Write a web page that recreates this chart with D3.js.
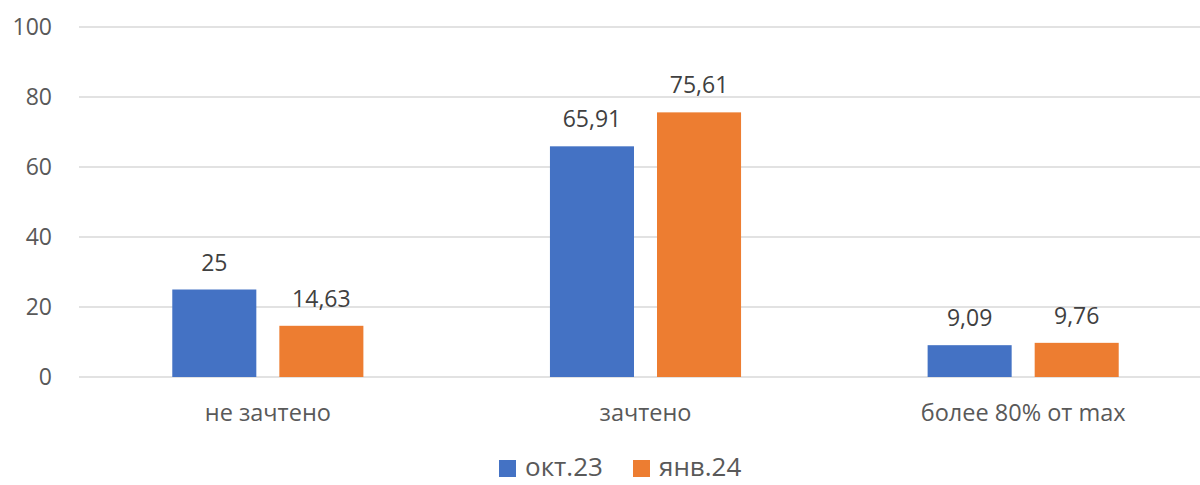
<!DOCTYPE html>
<html>
<head>
<meta charset="utf-8">
<script src="https://cdn.jsdelivr.net/npm/d3@7"></script>
<style>
  body { margin: 0; background: #fff; }
  svg { display: block; font-family: "Open Sans", sans-serif; }
</style>
</head>
<body>
<svg id="chart"></svg>
<script>
// data
var categories = ["не зачтено", "зачтено", "более 80% от max"];
var seriesNames = ["окт.23", "янв.24"];
var octValues = [25, 65.91, 9.09];
var janValues = [14.63, 75.61, 9.76];
var yTicks = [0, 20, 40, 60, 80, 100];

var colors = ["#4472C4", "#ED7D31"];
var width = 1200, height = 485;

var svg = d3.select("#chart").attr("width", width).attr("height", height);

var x0 = d3.scaleBand()
    .domain(categories)
    .range([79, 1212])
    .paddingInner(0.494)
    .paddingOuter(0.247);

var x1 = d3.scaleBand()
    .domain(seriesNames)
    .range([0, x0.bandwidth()])
    .paddingInner(0.215);

var y = d3.scaleLinear().domain([0, 100]).range([377, 27]);

// gridlines
svg.append("g")
    .selectAll("line")
    .data(yTicks)
    .join("line")
    .attr("x1", 79)
    .attr("x2", width)
    .attr("y1", function(d) { return y(d); })
    .attr("y2", function(d) { return y(d); })
    .attr("stroke", "#D9D9D9")
    .attr("stroke-width", 1.5);

// y axis labels
var yAxis = d3.axisLeft(y).tickValues(yTicks).tickSize(0).tickPadding(0);
var yg = svg.append("g").attr("transform", "translate(52,0)").call(yAxis);
yg.select(".domain").remove();
yg.selectAll("text")
    .attr("fill", "#595959")
    .style("font-size", "23px")
    .style("font-family", "Open Sans, sans-serif");

var rows = categories.map(function(c, i) {
  return { cat: c, vals: [octValues[i], janValues[i]] };
});

var groups = svg.append("g")
    .selectAll("g")
    .data(rows)
    .join("g")
    .attr("transform", function(d) { return "translate(" + x0(d.cat) + ",0)"; });

groups.selectAll("rect")
    .data(function(d) { return d.vals.map(function(v, j) { return { s: seriesNames[j], v: v, j: j }; }); })
    .join("rect")
    .attr("x", function(d) { return x1(d.s); })
    .attr("width", x1.bandwidth())
    .attr("y", function(d) { return y(d.v); })
    .attr("height", function(d) { return y(0) - y(d.v); })
    .attr("fill", function(d) { return colors[d.j]; });

groups.selectAll("text.val")
    .data(function(d) { return d.vals.map(function(v, j) { return { s: seriesNames[j], v: v }; }); })
    .join("text")
    .attr("class", "val")
    .attr("x", function(d) { return x1(d.s) + x1.bandwidth() / 2; })
    .attr("y", function(d) { return y(d.v) - 19; })
    .attr("text-anchor", "middle")
    .attr("fill", "#404040")
    .style("font-size", "23px")
    .text(function(d) { return String(d.v).replace(".", ","); });

// category labels
var xAxis = d3.axisBottom(x0).tickSize(0).tickPadding(0);
var xg = svg.append("g").attr("transform", "translate(0,377)").call(xAxis);
xg.select(".domain").remove();
xg.selectAll("text")
    .attr("dy", null)
    .attr("y", 44)
    .attr("fill", "#595959")
    .style("font-size", "23.5px")
    .style("font-family", "Open Sans, sans-serif");

// legend
var legendPos = [499, 633];
var legend = svg.append("g")
    .selectAll("g")
    .data(seriesNames)
    .join("g")
    .attr("transform", function(d, i) { return "translate(" + legendPos[i] + ",0)"; });
legend.append("rect")
    .attr("x", 0).attr("y", 460)
    .attr("width", 17).attr("height", 17)
    .attr("fill", function(d, i) { return colors[i]; });
legend.append("text")
    .attr("x", 26).attr("y", 476)
    .attr("fill", "#595959")
    .style("font-size", "26px")
    .text(function(d) { return d; });
</script>
</body>
</html>
